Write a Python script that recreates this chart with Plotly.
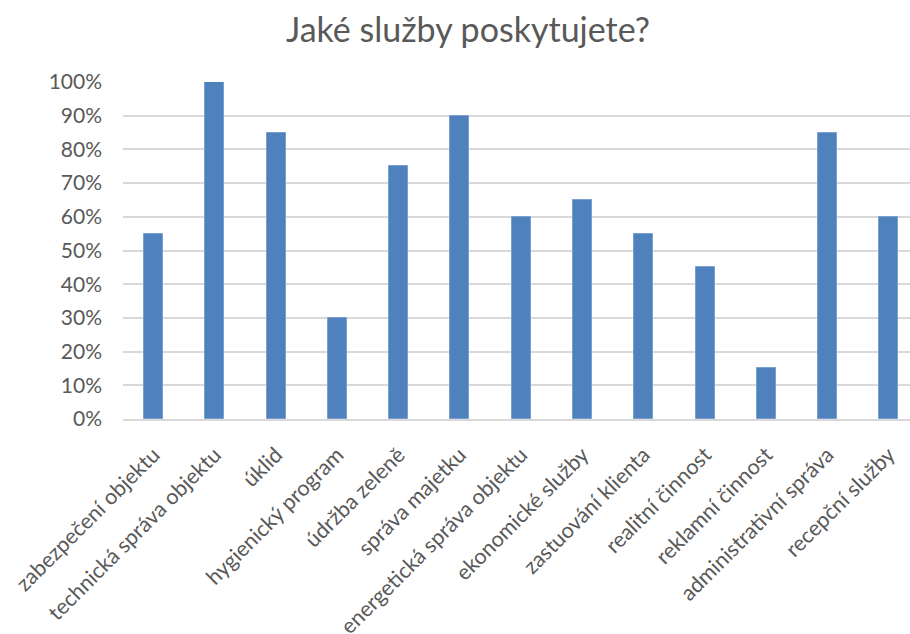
import plotly.graph_objects as go

categories = ["zabezpečení objektu", "technická správa objektu", "úklid", "hygienický program",
              "údržba zeleně", "správa majetku", "energetická správa objektu", "ekonomické služby",
              "zastuování klienta", "realitní činnost", "reklamní činnost", "administrativní správa",
              "recepční služby"]
values = [0.55, 1.00, 0.85, 0.30, 0.75, 0.90, 0.60, 0.65, 0.55, 0.45, 0.15, 0.85, 0.60]
y_ticks = [i / 10 for i in range(11)]
y_tick_labels = [f"{i * 10}%" for i in range(11)]
title_text = "Jaké služby poskytujete?"

W, H = 910, 634
FONT = "Lato, Carlito, Calibri, sans-serif"
GRAY = "#595959"

fig = go.Figure(go.Bar(
    x=list(range(len(categories))),
    y=values,
    width=0.31,
    marker=dict(color="#4F81BD", line=dict(color="#7AA0D2", width=1)),
))

fig.update_layout(
    width=W, height=H,
    margin=dict(l=123.4, r=0, t=81.7, b=214.5, pad=0, autoexpand=False),
    paper_bgcolor="white", plot_bgcolor="white",
    showlegend=False,
    bargap=0,
    font=dict(family=FONT, color=GRAY),
    title=dict(text=title_text, x=468 / W, xanchor="center", xref="container",
               y=1 - 30 / H, yanchor="middle", yref="container",
               font=dict(family=FONT, size=34, color=GRAY)),
)

fig.update_xaxes(
    range=[-0.5, 12.346],
    tickmode="array",
    tickvals=list(range(len(categories))),
    ticktext=categories,
    tickangle=-45,
    tickfont=dict(family=FONT, size=21.5, color=GRAY),
    ticks="", showgrid=False, zeroline=False,
    showline=True, linecolor="#D9D9D9", linewidth=1.5,
    ticklabelstandoff=13,
    automargin=False,
    fixedrange=True,
)
fig.update_yaxes(
    range=[0, 1],
    tickmode="array",
    tickvals=y_ticks,
    ticktext=y_tick_labels,
    tickfont=dict(family=FONT, size=21, color=GRAY),
    ticks="", showgrid=True, gridcolor="#D9D9D9", gridwidth=1.5,
    zeroline=False, showline=False,
    ticklabelstandoff=20,
    automargin=False,
    fixedrange=True,
)

fig.write_html("out.html", config={"displayModeBar": False})
